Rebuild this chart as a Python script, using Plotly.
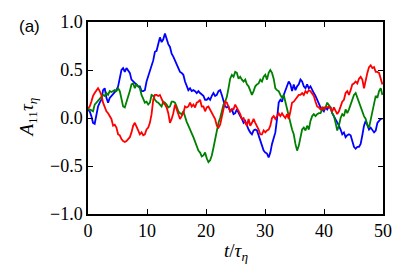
import numpy as np
import plotly.graph_objects as go

blue = [0.08,0.07,0.02,-0.05,-0.06,0.02,0.12,0.16,0.19,0.29,0.31,0.21,0.16,0.21,0.23,
        0.26,0.28,0.29,0.33,0.41,0.50,0.52,0.48,0.52,0.50,0.47,0.40,0.38,0.36,0.35,
        0.33,0.33,0.28,0.28,0.29,0.38,0.43,0.50,0.53,0.60,0.69,0.70,0.77,0.84,0.79,
        0.82,0.88,0.82,0.77,0.74,0.67,0.64,0.60,0.57,0.52,0.48,0.47,0.45,
        0.38,0.33,0.29,0.31,0.28,0.29,0.28,0.26,0.28,0.26,0.24,0.23,0.19,0.19,0.21,
        0.19,0.23,0.26,0.23,0.24,0.28,0.29,0.24,0.17,0.12,0.11,0.12,0.07,0.09,0.04,
        0.05,0.09,0.05,0.02,-0.01,-0.05,-0.03,-0.08,-0.12,-0.15,-0.17,-0.13,-0.12,-0.13,-0.18,
        -0.24,-0.29,-0.34,-0.36,-0.37,-0.41,-0.36,-0.27,-0.20,-0.15,-0.01,0.16,0.19,0.17,
        0.24,0.29,0.33,0.38,0.35,0.28,0.35,0.29,0.33,0.35,0.40,0.38,0.33,0.31,0.35,
        0.31,0.33,0.29,0.26,0.23,0.19,0.16,0.11,0.09,0.07,0.11,0.09,0.12,0.11,0.05,
        0.02,-0.01,-0.05,-0.08,-0.12,-0.17,-0.15,-0.20,-0.18,-0.17,-0.18,-0.25,-0.30,-0.32,-0.30,
        -0.30,-0.27,-0.18,-0.08,-0.03,-0.08,-0.12,-0.10,-0.12,-0.15,-0.13,-0.05,-0.03,-0.01,-0.01]

green = [0.09,0.09,0.08,0.07,0.14,0.16,0.17,0.19,0.21,0.24,0.23,0.26,0.24,0.28,0.27,
         0.28,0.29,0.28,0.31,0.28,0.19,0.12,0.11,0.16,0.23,0.28,0.35,0.36,0.31,0.35,
         0.33,0.31,0.24,0.19,0.16,0.17,0.14,0.16,0.24,0.23,0.19,0.17,0.16,0.14,0.12,
         0.17,0.16,0.14,0.11,0.12,0.17,0.17,0.16,0.12,0.07,0.05,0.04,0.07,
         0.00,-0.04,-0.08,-0.13,-0.16,-0.20,-0.25,-0.29,-0.34,-0.36,-0.40,-0.39,-0.36,-0.42,-0.46,
         -0.44,-0.39,-0.31,-0.22,-0.14,-0.05,0.00,0.07,0.14,0.17,0.22,0.31,0.41,0.45,0.43,
         0.48,0.47,0.41,0.43,0.40,0.38,0.40,0.35,0.33,0.29,0.24,0.28,0.33,0.35,0.36,
         0.40,0.38,0.43,0.45,0.40,0.47,0.50,0.47,0.41,0.31,0.29,0.28,0.24,0.21,
         0.24,0.16,0.09,0.02,-0.05,-0.12,-0.17,-0.27,-0.34,-0.29,-0.20,-0.12,-0.10,-0.13,-0.08,
         -0.12,-0.03,0.02,0.04,0.02,0.04,0.05,0.05,0.09,0.11,0.11,0.16,0.14,0.11,0.05,
         0.02,-0.05,-0.13,-0.08,0.00,0.04,0.02,0.09,0.05,0.09,0.14,0.19,0.24,0.26,0.21,
         0.16,0.11,0.05,0.02,-0.01,-0.07,-0.10,-0.01,0.09,0.17,0.23,0.21,0.28,0.31,0.24]

red = [0.10,0.12,0.17,0.23,0.26,0.29,0.31,0.28,0.24,0.16,0.11,0.07,0.05,0.02,-0.01,
       -0.08,-0.07,-0.10,-0.17,-0.18,-0.22,-0.24,-0.25,-0.24,-0.22,-0.20,-0.15,-0.08,-0.05,-0.10,
       -0.13,-0.17,-0.15,-0.18,-0.17,-0.12,-0.10,-0.05,0.04,0.19,0.24,0.24,0.23,0.24,0.19,
       0.16,0.14,0.11,0.05,-0.05,-0.01,0.05,0.14,0.09,0.04,-0.01,0.02,0.05,
       0.12,0.11,0.12,0.16,0.12,0.14,0.11,0.16,0.17,0.19,0.12,0.12,0.07,0.11,0.12,
       0.09,0.05,0.02,-0.01,-0.08,-0.10,-0.07,0.02,0.09,0.17,0.16,0.11,0.07,0.09,0.09,
       0.14,0.11,0.07,0.04,-0.01,0.00,-0.05,-0.08,-0.01,-0.08,-0.05,-0.01,-0.05,-0.08,-0.12,
       -0.17,-0.17,-0.13,-0.15,-0.13,-0.12,-0.08,0.00,0.02,-0.01,0.02,0.05,0.02,0.05,
       0.02,0.00,0.04,-0.01,0.07,0.16,0.17,0.19,0.21,0.24,0.24,0.26,0.24,0.28,0.26,
       0.29,0.28,0.26,0.23,0.17,0.12,0.11,0.09,0.11,0.09,0.11,0.11,0.12,0.09,0.07,
       0.11,0.07,0.04,0.07,0.12,0.17,0.19,0.26,0.28,0.24,0.29,0.35,0.36,0.38,0.36,
       0.41,0.43,0.40,0.31,0.40,0.47,0.53,0.55,0.52,0.53,0.48,0.48,0.47,0.41,0.35]

T_START, T_END = 0.0, 49.9
x_ticks = [0, 10, 20, 30, 40, 50]
y_ticks = [-1.0, -0.5, 0.0, 0.5, 1.0]

series = [("blue", blue, "#0000ff"), ("green", green, "#008000"), ("red", red, "#ff0000")]

fig = go.Figure()
for name, vals, col in series:
    t = np.linspace(T_START, T_END, len(vals))
    fig.add_trace(go.Scatter(x=t, y=vals, mode="lines", name=name,
                             line=dict(color=col, width=1.8), showlegend=False))

serif = "Liberation Serif, DejaVu Serif, serif"
axis_common = dict(showline=True, linecolor="black", linewidth=1.5, mirror="ticks",
                   ticks="inside", ticklen=5, tickwidth=1, tickcolor="black",
                   showgrid=False, zeroline=False,
                   tickfont=dict(family=serif, size=18, color="black"))

fig.update_xaxes(range=[0, 50], tickvals=x_ticks, ticktext=[str(v) for v in x_ticks], **axis_common)
fig.update_yaxes(range=[-1, 1], tickvals=y_ticks,
                 ticktext=[("\u2212" if v < 0 else "") + f"{abs(v):.1f}" for v in y_ticks],
                 **axis_common)

fig.update_layout(
    width=407, height=278,
    margin=dict(l=88, r=24, t=19, b=64),
    paper_bgcolor="white", plot_bgcolor="white",
    font=dict(family=serif, size=18, color="black"),
    annotations=[
        dict(text="(a)", xref="paper", yref="paper", x=-0.198, y=0.975,
             xanchor="center", yanchor="middle", showarrow=False,
             font=dict(family="Liberation Sans, Arial, sans-serif", size=17, color="black")),
        dict(text="<i>A</i><sub>11</sub><i>\u03c4</i><sub><i>\u03b7</i></sub>",
             xref="paper", yref="paper", x=-0.205, y=0.5, textangle=-90,
             xanchor="center", yanchor="middle", showarrow=False,
             font=dict(family=serif, size=19, color="black")),
        dict(text="<i>t</i>/<i>\u03c4</i><sub><i>\u03b7</i></sub>",
             xref="paper", yref="paper", x=0.5, y=-0.2,
             xanchor="center", yanchor="middle", showarrow=False,
             font=dict(family=serif, size=19, color="black")),
    ],
)

fig.write_html("out.html", config={"displayModeBar": False},
               post_script="document.body.style.margin='0';document.body.style.overflow='hidden';")
